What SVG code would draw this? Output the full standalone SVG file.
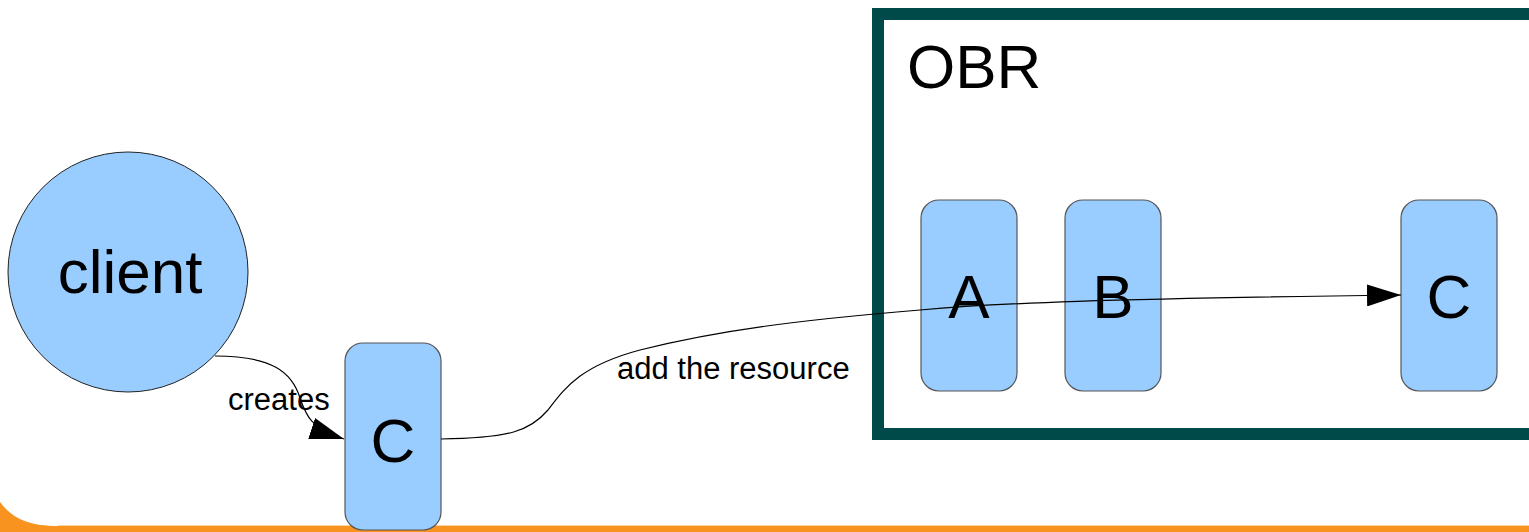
<svg xmlns="http://www.w3.org/2000/svg" width="1529" height="532" viewBox="0 0 1529 532">
<defs>
<style>
.node{fill:#99ccff;stroke:#555555;stroke-width:1.2}
.big{font-family:"Liberation Sans",Arial,sans-serif;font-size:62px;fill:#000;text-anchor:middle}
.lbl{font-family:"Liberation Sans",Arial,sans-serif;font-size:31px;fill:#000}
.conn{fill:none;stroke:#000;stroke-width:1.2}
</style>
<marker id="arr" viewBox="0 0 34 22" refX="34" refY="11" markerWidth="34" markerHeight="22" markerUnits="userSpaceOnUse" orient="auto">
<path d="M0,0 L34,11 L0,22 Z" fill="#000"/>
</marker>
</defs>
<rect width="1529" height="532" fill="#ffffff"/>
<g id="footer">
<path d="M0,502 C12,518 28,526 58,526 L1529,526 L1529,532 L0,532 Z" fill="#f7931e"/>
<line x1="58" y1="525.5" x2="1529" y2="525.5" stroke="#fbd3a6" stroke-width="1"/>
</g>
<g id="obr">
<rect x="878" y="14" width="700" height="420" fill="#ffffff" stroke="#004a4a" stroke-width="12"/>
<text x="907" y="88" class="big" style="text-anchor:start">OBR</text>
</g>
<g id="client">
<circle cx="128" cy="272" r="120" fill="#99ccff" stroke="#222" stroke-width="1"/>
<text x="130" y="293" class="big">client</text>
</g>
<g id="node-A">
<rect x="921" y="200" width="96" height="191" rx="18" ry="18" class="node"/>
<text x="969" y="318" class="big">A</text>
</g>
<g id="node-B">
<rect x="1065" y="200" width="96" height="191" rx="18" ry="18" class="node"/>
<text x="1113" y="318" class="big">B</text>
</g>
<g id="node-C-obr">
<rect x="1401" y="200" width="96" height="191" rx="18" ry="18" class="node"/>
<text x="1449" y="318" class="big">C</text>
</g>
<g id="node-C-client">
<rect x="345" y="343" width="96" height="187" rx="18" ry="18" class="node"/>
<text x="393" y="462" class="big">C</text>
</g>
<g id="connectors">
<path class="conn" d="M215,356 C272,356 292,372 300,398 C306,415 310,428 344,439" marker-end="url(#arr)"/>
<path class="conn" d="M441,439 C510,438 530,431 548,410 C565,388 580,366 640,350 C720,330 800,320 920,310 C1000,303 1100,299 1401,295" marker-end="url(#arr)"/>
<text x="228" y="410" class="lbl">creates</text>
<text x="617" y="379" class="lbl">add the resource</text>
</g>
</svg>
